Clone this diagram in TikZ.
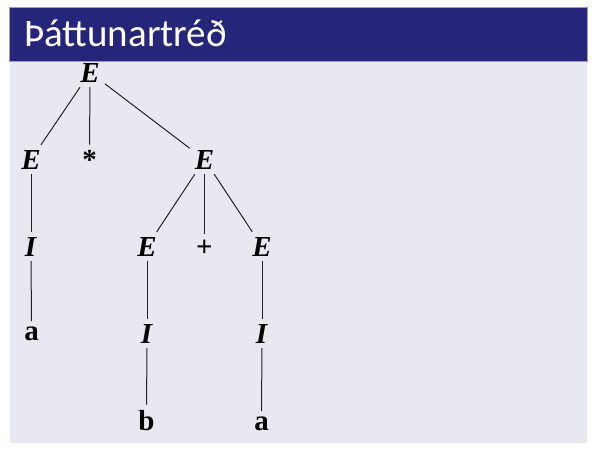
\documentclass[tikz,border=0pt]{standalone}
\usepackage{fontspec}
\setmainfont{Liberation Serif}
\newfontfamily\titlefont{Carlito}
\definecolor{hdr}{HTML}{25267A}
\definecolor{hdredge}{HTML}{9C9CCB}
\definecolor{bodybg}{HTML}{E8E8F1}
\definecolor{edgec}{HTML}{222222}
\tikzset{
  tn/.style={anchor=base, inner sep=5pt, font=\fontsize{29}{32}\selectfont, text=black},
  tedge/.style={draw=edgec, line width=1pt},
}
\begin{document}
\begin{tikzpicture}[x=1pt,y=-1pt]
\useasboundingbox (0,0) rectangle (604,452);
\fill[white] (0,0) rectangle (604,452);
\fill[bodybg] (9.5,61) rectangle (587,443);
\filldraw[fill=hdr, draw=hdredge, line width=0.6pt] (9.5,7.5) rectangle (587,61);
\node[anchor=base west, inner sep=0pt, text=white, font=\titlefont\fontsize{39}{42}\selectfont] (title) at (24,46) {Þáttunartréð};

\node[tn] (r) at (90,82) {\textbf{\textit{E}}};
\node[tn] (e1) at (31,169) {\textbf{\textit{E}}};
\node[tn] (st) at (89.5,169) {\textbf{*}};
\node[tn] (e2) at (204.5,169) {\textbf{\textit{E}}};
\node[tn] (i1) at (31,256) {\textbf{\textit{I}}};
\node[tn] (e3) at (147,256) {\textbf{\textit{E}}};
\node[tn] (pl) at (204.5,256) {\textbf{+}};
\node[tn] (e4) at (262,256) {\textbf{\textit{E}}};
\node[tn] (a1) at (31.5,340) {\textbf{a}};
\node[tn] (i2) at (147,343) {\textbf{\textit{I}}};
\node[tn] (i3) at (262,343) {\textbf{\textit{I}}};
\node[tn] (b1) at (146.5,430) {\textbf{b}};
\node[tn] (a2) at (261.5,430) {\textbf{a}};

\draw[tedge] (r) -- (e1);
\draw[tedge] (r) -- (st);
\draw[tedge] (r) -- (e2);
\draw[tedge] (e1) -- (i1);
\draw[tedge] (i1) -- (a1);
\draw[tedge] (e2) -- (e3);
\draw[tedge] (e2) -- (pl);
\draw[tedge] (e2) -- (e4);
\draw[tedge] (e3) -- (i2);
\draw[tedge] (i2) -- (b1);
\draw[tedge] (e4) -- (i3);
\draw[tedge] (i3) -- (a2);
\end{tikzpicture}
\end{document}
